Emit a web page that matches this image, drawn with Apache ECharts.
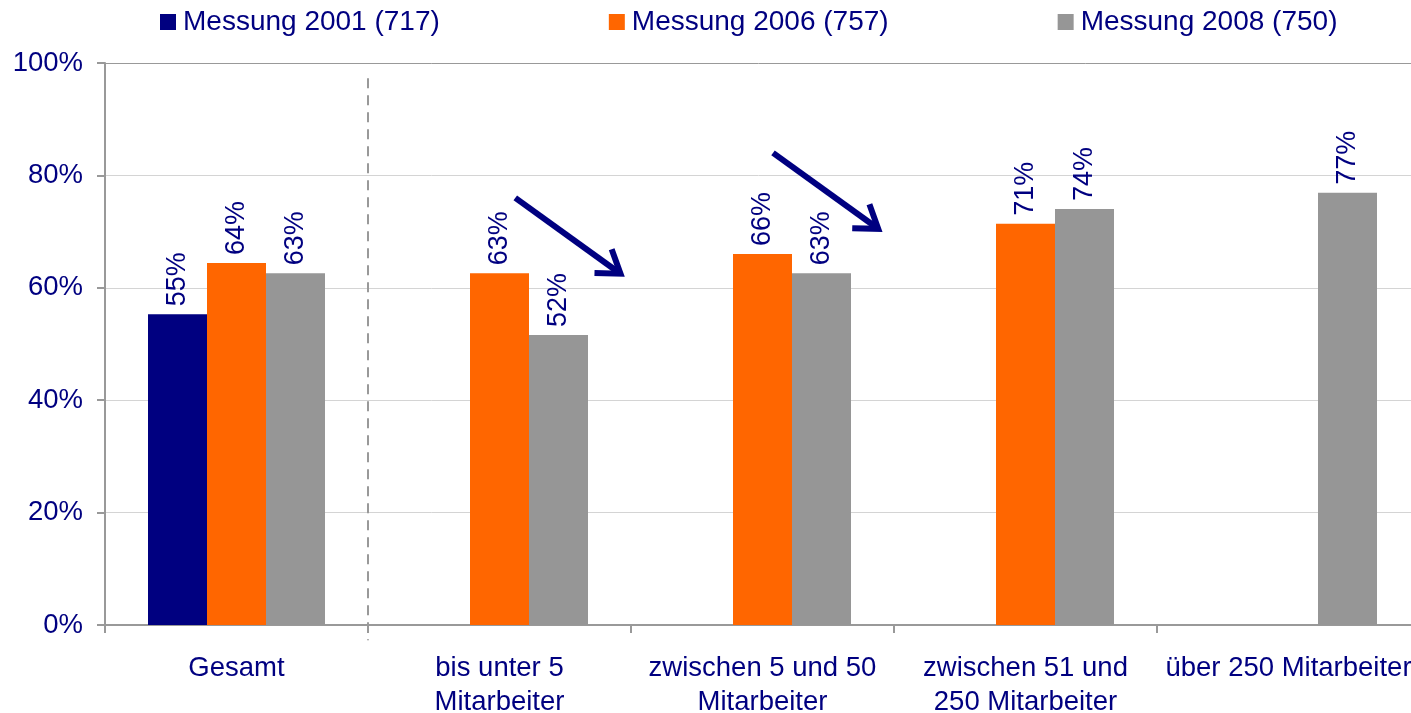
<!DOCTYPE html>
<html>
<head>
<meta charset="utf-8">
<script src="https://cdn.jsdelivr.net/npm/echarts@6/dist/echarts.min.js"></script>
<style>
html,body{margin:0;padding:0;background:#fff;}
#chart{width:1411px;height:713px;}
</style>
</head>
<body>
<div id="chart"></div>
<script>
const categories = ['Gesamt', 'bis unter 5\nMitarbeiter', 'zwischen 5 und 50\nMitarbeiter', 'zwischen 51 und\n250 Mitarbeiter', 'über 250 Mitarbeiter'];
const seriesNames = ['Messung 2001 (717)', 'Messung 2006 (757)', 'Messung 2008 (750)'];
const values2001 = [55.3, null, null, null, null];
const values2006 = [64.4, 62.6, 66.0, 71.4, null];
const values2008 = [62.6, 51.6, 62.6, 74.0, 76.9];
const yTicks = [0, 20, 40, 60, 80, 100];
// arrows in data space: [startCategoryIndex, startValue, endCategoryIndex, endValue]
const arrows = [[1.06, 76.0, 1.46, 62.5], [2.04, 84.0, 2.44, 70.5]];
// dashed separator between category 0 and 1 (category position 0.5), from value to value
const separator = [0.5, 97.3, -2.7];

const colors = ['#000080', '#FF6600', '#969696'];
const navy = '#000080';
const font = "'Liberation Sans', Arial, sans-serif";

const chart = echarts.init(document.getElementById('chart'), null, {renderer: 'canvas'});

function mkSeries(name, data, color) {
  return {
    name: name,
    type: 'bar',
    data: data,
    barGap: '0%',
    barCategoryGap: '32.7%',
    itemStyle: {color: color},
    label: {
      show: true,
      position: 'top',
      rotate: 90,
      align: 'left',
      verticalAlign: 'middle',
      distance: 8,
      color: navy,
      fontSize: 27,
      fontFamily: font,
      formatter: p => (p.value == null ? '' : Math.round(p.value) + '%')
    }
  };
}

const option = {
  animation: false,
  backgroundColor: '#fff',
  textStyle: {fontFamily: font},
  color: colors,
  legend: {
    data: seriesNames,
    left: 155,
    top: 3,
    itemWidth: 16,
    itemHeight: 16,
    itemGap: 169,
    icon: 'rect',
    textStyle: {color: navy, fontSize: 28, fontFamily: font, padding: [0, 0, 0, 2]}
  },
  grid: {left: 105, top: 63, width: 1315, height: 562, containLabel: false, outerBoundsMode: 'none'},
  xAxis: {
    type: 'category',
    data: categories,
    axisLine: {lineStyle: {color: '#999', width: 2}},
    axisTick: {show: true, length: 8, lineStyle: {color: '#999', width: 2}},
    axisLabel: {color: navy, fontSize: 27.5, fontFamily: font, margin: 26, lineHeight: 34, interval: 0}
  },
  yAxis: {
    type: 'value',
    min: yTicks[0],
    max: yTicks[yTicks.length - 1],
    interval: yTicks[1] - yTicks[0],
    axisLine: {show: true, lineStyle: {color: '#999', width: 2}},
    axisTick: {show: true, length: 8, lineStyle: {color: '#999', width: 2}},
    axisLabel: {color: navy, fontSize: 27.5, fontFamily: font, margin: 22, formatter: '{value}%'},
    splitLine: {show: true, showMinLine: true, showMaxLine: true,
      lineStyle: {color: ['#999', '#d4d4d4', '#d4d4d4', '#d4d4d4', '#d4d4d4', '#999'], width: 1}}
  },
  series: [
    mkSeries(seriesNames[0], values2001, colors[0]),
    mkSeries(seriesNames[1], values2006, colors[1]),
    mkSeries(seriesNames[2], values2008, colors[2])
  ]
};
chart.setOption(option);

function toPx(ci, v) {
  const p0 = chart.convertToPixel({gridIndex: 0}, [0, v]);
  const p1 = chart.convertToPixel({gridIndex: 0}, [1, v]);
  return [p0[0] + ci * (p1[0] - p0[0]), p0[1]];
}

const graphics = [];
const s1 = toPx(separator[0], separator[1]);
const s2 = toPx(separator[0], separator[2]);
graphics.push({
  type: 'line', silent: true, z: 10,
  shape: {x1: s1[0], y1: s1[1], x2: s2[0], y2: s2[1]},
  style: {stroke: '#999', lineWidth: 2, lineDash: [10, 7]}
});
arrows.forEach(a => {
  const p = toPx(a[0], a[1]);
  const q = toPx(a[2], a[3]);
  const ang = Math.atan2(q[1] - p[1], q[0] - p[0]);
  const head = 26, spread = 0.6;
  const l = [q[0] - head * Math.cos(ang - spread), q[1] - head * Math.sin(ang - spread)];
  const r = [q[0] - head * Math.cos(ang + spread), q[1] - head * Math.sin(ang + spread)];
  graphics.push({
    type: 'line', silent: true, z: 10,
    shape: {x1: p[0], y1: p[1], x2: q[0] - 3 * Math.cos(ang), y2: q[1] - 3 * Math.sin(ang)},
    style: {stroke: navy, lineWidth: 6}
  });
  graphics.push({
    type: 'polyline', silent: true, z: 10,
    shape: {points: [l, q, r]},
    style: {stroke: navy, lineWidth: 6, fill: null, lineJoin: 'miter'}
  });
});
chart.setOption({graphic: graphics});
</script>
</body>
</html>
